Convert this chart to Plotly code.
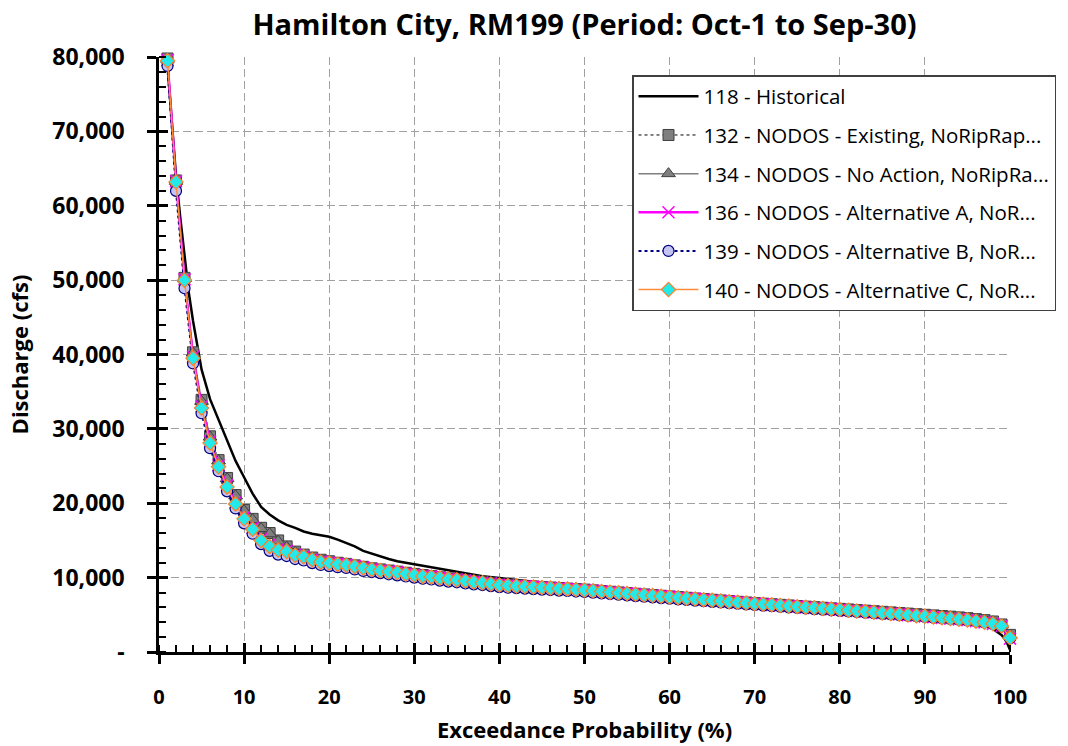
import plotly.graph_objects as go

# ---------------- data ----------------
exceed = list(range(1, 101))

hist_x = [0.75, 1, 1.5, 2, 2.5, 3, 3.5, 4, 4.5, 5, 6, 7, 8, 9, 10, 11, 12, 13, 14, 15,
          16, 17, 18, 19, 20, 21, 22, 23, 24, 25, 26, 27, 28, 30, 32, 34, 36, 38, 40,
          45, 50, 55, 60, 65, 70, 75, 80, 85, 90, 93, 95, 96, 97, 98, 99, 99.5, 100]
hist_y = [82500, 78800, 71500, 64000, 58400, 53000, 48300, 44500, 41200, 38000, 34000,
          31200, 28500, 25700, 23500, 21300, 19500, 18500, 17700, 17100, 16700, 16200,
          15900, 15700, 15500, 15100, 14700, 14200, 13600, 13200, 12900, 12500, 12200,
          11800, 11350, 10900, 10500, 10200, 9950, 9300, 8700, 8300, 7900, 7350, 6850,
          6350, 5850, 5350, 4850, 4450, 4100, 3850, 3550, 3100, 2300, 1600, 300]

s132 = [79800, 63400, 50300, 40300, 33900, 29000, 25800, 23400, 21100, 19100,
        17900, 16700, 16000, 15000, 14200, 13500, 13100, 12700, 12400, 12200,
        12000, 11850, 11650, 11450, 11250, 11100, 10950, 10800, 10650, 10500,
        10350, 10200, 10050, 9900, 9800, 9650, 9500, 9400, 9250, 9100,
        9020, 8950, 8880, 8810, 8740, 8670, 8600, 8530, 8460, 8390,
        8290, 8190, 8100, 8010, 7920, 7830, 7740, 7650, 7560, 7470,
        7380, 7290, 7200, 7110, 7020, 6930, 6840, 6750, 6660, 6570,
        6500, 6420, 6340, 6260, 6180, 6100, 6020, 5950, 5870, 5800,
        5720, 5640, 5560, 5480, 5400, 5320, 5240, 5160, 5080, 5000,
        4920, 4840, 4750, 4650, 4550, 4420, 4280, 4100, 3700, 2300]

s134 = [79700, 63300, 50200, 40200, 33700, 28900, 25700, 23300, 21000, 19000,
        17800, 16600, 15900, 14900, 14100, 13400, 13000, 12650, 12350, 12150,
        11950, 11800, 11600, 11400, 11200, 11050, 10900, 10750, 10600, 10450,
        10300, 10150, 10000, 9870, 9770, 9620, 9480, 9380, 9230, 9080,
        9000, 8930, 8860, 8790, 8720, 8650, 8580, 8510, 8440, 8370,
        8270, 8170, 8080, 7990, 7900, 7810, 7720, 7630, 7540, 7450,
        7360, 7270, 7180, 7090, 7000, 6910, 6820, 6730, 6640, 6550,
        6480, 6400, 6320, 6240, 6160, 6080, 6000, 5930, 5850, 5780,
        5700, 5620, 5540, 5460, 5380, 5300, 5220, 5140, 5060, 4980,
        4900, 4820, 4730, 4630, 4530, 4400, 4260, 4080, 3650, 2200]

s136 = [79600, 63300, 50100, 39700, 33000, 28300, 25100, 22400, 20100, 18100,
        16700, 15200, 14400, 13850, 13600, 13100, 12850, 12450, 12150, 12000,
        11850, 11750, 11550, 11350, 11150, 11000, 10850, 10750, 10550, 10400,
        10250, 10150, 10000, 9850, 9750, 9600, 9450, 9350, 9200, 9050,
        8970, 8900, 8830, 8760, 8690, 8620, 8550, 8480, 8410, 8340,
        8240, 8140, 8050, 7960, 7870, 7770, 7680, 7590, 7500, 7410,
        7320, 7230, 7140, 7050, 6950, 6860, 6770, 6680, 6590, 6500,
        6410, 6330, 6250, 6170, 6090, 6000, 5920, 5840, 5760, 5680,
        5590, 5500, 5410, 5320, 5230, 5140, 5050, 4960, 4870, 4780,
        4680, 4580, 4480, 4380, 4280, 4130, 3980, 3780, 3450, 1800]

s139 = [78800, 62000, 48900, 38800, 32100, 27400, 24300, 21600, 19300, 17300,
        15900, 14500, 13600, 13100, 12900, 12500, 12300, 11950, 11700, 11550,
        11400, 11300, 11100, 10900, 10750, 10600, 10450, 10300, 10150, 10000,
        9850, 9750, 9600, 9470, 9370, 9230, 9100, 9000, 8860, 8720,
        8650, 8590, 8520, 8460, 8390, 8330, 8260, 8200, 8130, 8070,
        7970, 7880, 7790, 7700, 7610, 7520, 7430, 7340, 7250, 7170,
        7080, 7000, 6910, 6830, 6740, 6660, 6570, 6490, 6400, 6320,
        6240, 6160, 6080, 6000, 5920, 5850, 5770, 5690, 5610, 5530,
        5450, 5370, 5290, 5210, 5130, 5050, 4960, 4880, 4800, 4710,
        4620, 4530, 4430, 4340, 4240, 4100, 3960, 3770, 3470, 1850]

s140 = [79500, 63200, 50000, 39500, 32800, 28100, 24900, 22200, 19900, 17900,
        16500, 15000, 14200, 13700, 13500, 13000, 12800, 12400, 12100, 11950,
        11800, 11700, 11500, 11300, 11100, 10950, 10800, 10700, 10500, 10350,
        10200, 10100, 9950, 9800, 9700, 9550, 9400, 9300, 9150, 9000,
        8930, 8870, 8800, 8730, 8670, 8600, 8530, 8470, 8400, 8330,
        8230, 8130, 8040, 7950, 7860, 7760, 7670, 7580, 7490, 7400,
        7310, 7220, 7130, 7040, 6950, 6860, 6770, 6680, 6590, 6500,
        6420, 6340, 6260, 6180, 6100, 6020, 5940, 5860, 5780, 5700,
        5610, 5520, 5430, 5340, 5250, 5160, 5070, 4980, 4890, 4800,
        4700, 4600, 4500, 4400, 4300, 4150, 4000, 3800, 3500, 1900]

names = ["118 - Historical",
         "132 - NODOS - Existing, NoRipRap...",
         "134 - NODOS - No Action, NoRipRa...",
         "136 - NODOS - Alternative A, NoR...",
         "139 - NODOS - Alternative B, NoR...",
         "140 - NODOS - Alternative C, NoR..."]

x_ticks = list(range(0, 101, 10))
y_ticks = list(range(0, 80001, 10000))
y_ticktext = ["-", "10,000", "20,000", "30,000", "40,000", "50,000", "60,000", "70,000", "80,000"]

FONT = "Open Sans"

fig = go.Figure()

fig.add_trace(go.Scatter(x=hist_x, y=hist_y, name=names[0], mode="lines",
                         line=dict(color="black", width=2.5), legendgroup="g0"))
fig.add_trace(go.Scatter(x=exceed, y=s132, name=names[1], mode="lines+markers",
                         line=dict(color="black", width=1, dash="dot"),
                         marker=dict(symbol="square", size=11, color="#7f7f7f",
                                     line=dict(color="#404040", width=1)),
                         cliponaxis=False, legendgroup="g1"))
fig.add_trace(go.Scatter(x=exceed, y=s134, name=names[2], mode="lines+markers",
                         line=dict(color="#7f7f7f", width=1.5),
                         marker=dict(symbol="triangle-up", size=12, color="#7f7f7f",
                                     line=dict(color="#404040", width=1)),
                         cliponaxis=False, legendgroup="g2"))
fig.add_trace(go.Scatter(x=exceed, y=s136, name=names[3], mode="lines+markers",
                         line=dict(color="#ff00ff", width=2.5),
                         marker=dict(symbol="x-thin", size=12, color="#ff00ff",
                                     line=dict(color="#ff00ff", width=1.5)),
                         cliponaxis=False, legendgroup="g3"))
fig.add_trace(go.Scatter(x=exceed, y=s139, name=names[4], mode="lines+markers",
                         line=dict(color="#000080", width=2, dash="dot"),
                         marker=dict(symbol="circle", size=11, color="#c4c4f2",
                                     line=dict(color="#000080", width=1.2)),
                         cliponaxis=False, legendgroup="g4"))
fig.add_trace(go.Scatter(x=exceed, y=s140, name=names[5], mode="lines+markers",
                         line=dict(color="#ff8c3a", width=1.5),
                         marker=dict(symbol="diamond", size=11, color="#22eaea",
                                     line=dict(color="#ff7f27", width=1.2)),
                         cliponaxis=False, legendgroup="g5"))
# empty trace to host overlay axes (for crossing major ticks)
fig.add_trace(go.Scatter(x=[], y=[], xaxis="x2", yaxis="y2", showlegend=False,
                         hoverinfo="skip"))

axis_common = dict(showline=True, linecolor="black", linewidth=2.5, zeroline=False,
                   ticks="outside", ticklen=9, tickwidth=2.5, tickcolor="black",
                   showgrid=True, gridcolor="#a0a0a0", gridwidth=1, griddash="8px,4px",
                   mirror=False, automargin=False)

fig.update_layout(
    width=1068, height=746,
    margin=dict(l=159, r=58, t=57, b=94),
    paper_bgcolor="white", plot_bgcolor="white",
    title=dict(text="<b>Hamilton City, RM199 (Period: Oct-1 to Sep-30)</b>",
               x=(159 + 1010) / 2 / 1068, xanchor="center", y=1 - 25 / 746, yanchor="middle",
               font=dict(family=FONT, size=29, color="black")),
    xaxis=dict(axis_common, range=[0, 100], tickvals=x_ticks,
               tickfont=dict(family=FONT, size=20, color="black", weight="bold"),
               ticklabelstandoff=16,
               minor=dict(dtick=2, ticks="inside", ticklen=7, tickwidth=2, tickcolor="black",
                          showgrid=False),
               title=dict(text="<b>Exceedance Probability (%)</b>",
                          font=dict(family=FONT, size=22, color="black"), standoff=14)),
    yaxis=dict(axis_common, range=[0, 80000], tickvals=y_ticks, ticktext=y_ticktext,
               tickfont=dict(family=FONT, size=23, color="black", weight="bold"),
               ticklabelstandoff=18,
               minor=dict(dtick=2000, ticks="inside", ticklen=7, tickwidth=2, tickcolor="black",
                          showgrid=False),
               title=dict(text="<b>Discharge (cfs)</b>",
                          font=dict(family=FONT, size=22, color="black"), standoff=18)),
    xaxis2=dict(overlaying="x", anchor="y2", range=[0, 100], tickvals=x_ticks,
                ticks="inside", ticklen=9, tickwidth=2.5, tickcolor="black", automargin=False,
                showticklabels=False, showgrid=False, showline=False, zeroline=False),
    yaxis2=dict(overlaying="y", anchor="x2", range=[0, 80000], tickvals=y_ticks,
                ticks="inside", ticklen=9, tickwidth=2.5, tickcolor="black", automargin=False,
                showticklabels=False, showgrid=False, showline=False, zeroline=False),
    legend=dict(x=(632 - 159) / 851, xanchor="left", y=(652 - 75) / 595, yanchor="top",
                bgcolor="white", bordercolor="#404040", borderwidth=1.5,
                font=dict(family=FONT, size=20.5, color="black"),
                itemwidth=60, tracegroupgap=9, traceorder="grouped"),
    showlegend=True,
)

fig.write_html("out.html")
